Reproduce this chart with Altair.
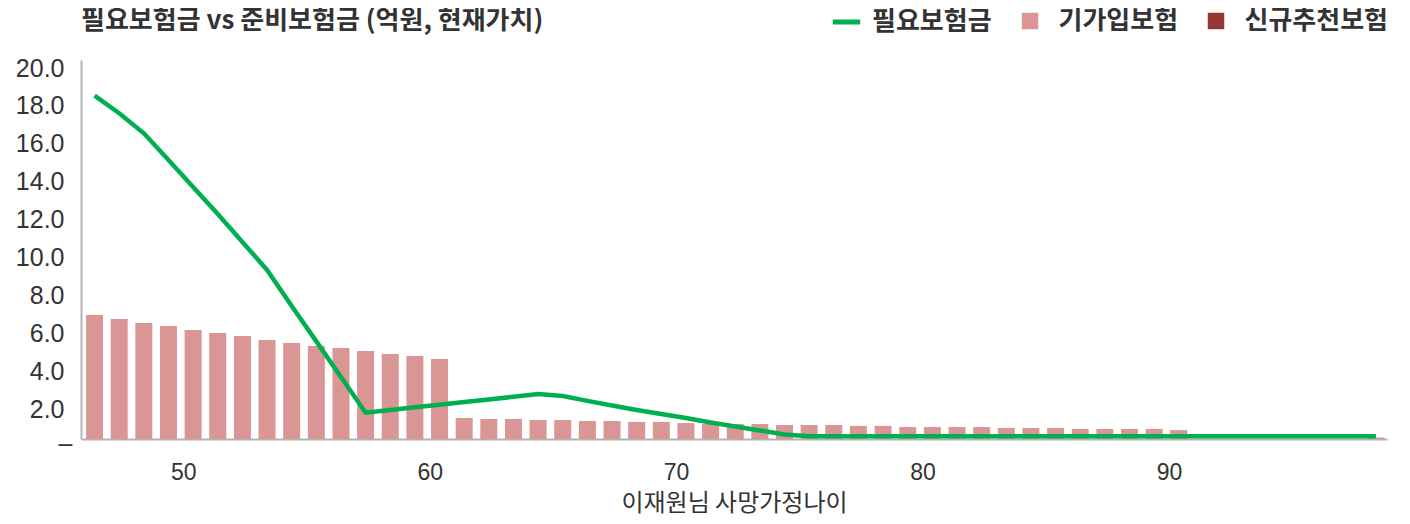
import altair as alt
import pandas as pd

# 사망가정나이 (x categories)
ages = [46.4, 47.4, 48.4, 49.4, 50.4, 51.4, 52.4, 53.4, 54.4, 55.4,
        56.4, 57.4, 58.4, 59.4, 60.4, 61.4, 62.4, 63.4, 64.4, 65.4,
        66.4, 67.4, 68.4, 69.4, 70.4, 71.4, 72.4, 73.4, 74.4, 75.4,
        76.4, 77.4, 78.4, 79.4, 80.4, 81.4, 82.4, 83.4, 84.4, 85.4,
        86.4, 87.4, 88.4, 89.4, 90.4, 91.4, 92.4, 93.4, 94.4, 95.4,
        96.4, 97.4, 98.4]

# 기가입보험 (bars)
existing_cover = [6.54, 6.33, 6.12, 5.96, 5.75, 5.59, 5.44, 5.22, 5.07, 4.91,
                  4.80, 4.64, 4.49, 4.38, 4.22, 1.11, 1.06, 1.06, 1.00, 1.00,
                  0.95, 0.95, 0.90, 0.90, 0.84, 0.79, 0.79, 0.79, 0.74, 0.74,
                  0.74, 0.69, 0.69, 0.63, 0.63, 0.63, 0.63, 0.58, 0.58, 0.58,
                  0.53, 0.53, 0.53, 0.53, 0.47, 0.0, 0.0, 0.0, 0.0, 0.0,
                  0.0, 0.0, 0.08]

# 필요보험금 (line)
required_cover = [18.12, 17.19, 16.13, 14.72, 13.30, 11.87, 10.40, 8.92, 7.02, 5.15,
                  3.27, 1.39, 1.53, 1.67, 1.81, 1.95, 2.09, 2.23, 2.37, 2.27,
                  2.01, 1.77, 1.53, 1.32, 1.11, 0.87, 0.66, 0.45, 0.24, 0.15,
                  0.15, 0.15, 0.15, 0.15, 0.15, 0.15, 0.15, 0.15, 0.15, 0.15,
                  0.15, 0.15, 0.15, 0.15, 0.15, 0.15, 0.15, 0.15, 0.15, 0.15,
                  0.15, 0.15, 0.15]

S_REQ = "필요보험금"
S_EXIST = "기가입보험"
S_NEW = "신규추천보험"

x_ticks = [50, 60, 70, 80, 90]
y_ticks = [0, 2, 4, 6, 8, 10, 12, 14, 16, 18, 20]

bar_df = pd.DataFrame({"age": ages, "value": existing_cover, "series": S_EXIST})
line_df = pd.DataFrame({"age": ages, "value": required_cover, "series": S_REQ})

KR = "Noto Sans CJK KR"
NUM = "Liberation Sans"
TXT = "#333333"
AXC = "#b3b3b3"

x_scale = alt.Scale(domain=[45.85, 98.85], nice=False, zero=False, padding=0)
y_scale = alt.Scale(domain=[0, 20], nice=False, padding=0)

x_axis = alt.Axis(values=x_ticks, format="d", labelFont=NUM, labelFontSize=23,
                  labelColor=TXT, ticks=False, tickSize=0, grid=False,
                  domainColor=AXC, domainWidth=2, labelPadding=22,
                  title="이재원님 사망가정나이", titleFont=KR, titleFontSize=24,
                  titleFontWeight="normal", titleColor=TXT, titlePadding=7)
y_axis = alt.Axis(values=y_ticks,
                  labelExpr="datum.value == 0 ? '–' : format(datum.value, '.1f')",
                  labelFont=NUM, labelFontSize=25, labelColor=TXT, ticks=False,
                  tickSize=0, grid=False, domainColor=AXC, domainWidth=2,
                  labelPadding={"condition": {"test": "datum.value === 0", "value": 9}, "value": 17},
                  labelOffset={"condition": {"test": "datum.value === 0", "value": 4}, "value": 8},
                  title=None)

bars = alt.Chart(bar_df).mark_bar(width=17).encode(
    x=alt.X("age:Q", scale=x_scale, axis=x_axis),
    y=alt.Y("value:Q", scale=y_scale, axis=y_axis),
    color=alt.Color("series:N",
                    scale=alt.Scale(domain=[S_EXIST, S_NEW], range=["#d99694", "#953735"]),
                    legend=alt.Legend(orient="none", legendX=936, legendY=-52,
                                      direction="horizontal", title=None,
                                      labelFont=KR, labelFontSize=26, labelFontWeight="bold",
                                      labelColor=TXT, symbolType="square", symbolSize=272,
                                      symbolStrokeWidth=0, labelOffset=15.5, columnPadding=24,
                                      labelLimit=400)),
)

line = alt.Chart(line_df).mark_line(strokeWidth=4.5).encode(
    x=alt.X("age:Q", scale=x_scale, axis=x_axis),
    y=alt.Y("value:Q", scale=y_scale, axis=y_axis),
    color=alt.Color("series:N",
                    scale=alt.Scale(domain=[S_REQ], range=["#00b050"]),
                    legend=alt.Legend(orient="none", legendX=749, legendY=-54.5,
                                      direction="horizontal", title=None,
                                      labelFont=KR, labelFontSize=26, labelFontWeight="bold",
                                      labelColor=TXT, symbolType="stroke", symbolSize=750,
                                      symbolStrokeWidth=5, labelOffset=9, labelLimit=400)),
)

chart = alt.layer(bars, line).resolve_scale(color="independent").properties(
    width=1306, height=379,
    autosize=alt.AutoSizeParams(type="none"),
    padding={"left": 73, "top": 52, "right": 15, "bottom": 77},
    title=alt.TitleParams("필요보험금 vs 준비보험금 (억원, 현재가치)", anchor="start",
                          font=KR, fontSize=26, fontWeight="bold", color=TXT,
                          offset=18, dy=46, frame="group"),
).configure_view(stroke=None)

chart.save("out.html", embed_options={"renderer": "svg", "actions": False})
